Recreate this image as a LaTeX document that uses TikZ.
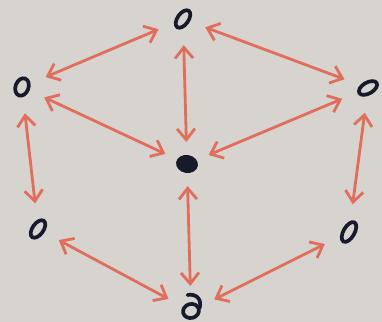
\documentclass[tikz,border=0pt]{standalone}
\usepackage{tikz}
\usetikzlibrary{arrows.meta, shapes.geometric, calc}
\usepackage{xcolor}
\definecolor{paper}{RGB}{215,212,208}
\definecolor{salmon}{RGB}{224,110,92}
\definecolor{ink}{RGB}{22,26,42}

\begin{document}
\begin{tikzpicture}[
  ring/.style={ellipse, draw=ink, line width=2.1pt, minimum width=0.40cm, minimum height=0.22cm, inner sep=0pt, outer sep=0.36cm},
  dot/.style={ellipse, fill=ink, minimum width=0.44cm, minimum height=0.36cm, inner sep=0pt, outer sep=0.26cm},
  link/.style={{Straight Barb[length=2.2mm,width=3.6mm]}-{Straight Barb[length=2.2mm,width=3.6mm]}, salmon, line width=1.6pt, line cap=round}
]
  \fill[paper] (0,0) rectangle (7.64,6.44);
  \useasboundingbox (0,0) rectangle (7.64,6.44);
  % outer ring of nodes
  \node[ring, rotate=55] (top) at (3.66,6.06) {};
  \node[ring, rotate=70, minimum width=0.36cm, minimum height=0.26cm] (ul) at (0.44,4.70) {};
  \node[ring, rotate=30] (ur) at (7.36,4.68) {};
  \node[ring, rotate=55] (ll) at (0.76,1.86) {};
  \node[ring, rotate=60, minimum width=0.44cm] (lr) at (6.98,1.80) {};
  \node[ring, rotate=15, minimum width=0.32cm, minimum height=0.28cm] (bot) at (3.82,0.22) {};
  \draw[ink, line width=2.1pt, line cap=round] (bot) ++(0.17,0.05) .. controls +(0.06,0.2) and +(0.16,0.03) .. ++(-0.24,0.27);
  % middle
  \node[dot, rotate=-10] (ctr) at (3.74,3.16) {};
  % hexagon edges
  \draw[link] (top) -- (ul);
  \draw[link] (top) -- (ur);
  \draw[link] (ul) -- (ll);
  \draw[link] (ur) -- (lr);
  \draw[link] (ll) -- (bot);
  \draw[link] (lr) -- (bot);
  % spokes
  \draw[link] (top) -- (ctr);
  \draw[link] (ul) -- (ctr);
  \draw[link] (ur) -- (ctr);
  \draw[link] (ctr) -- (bot);
\end{tikzpicture}
\end{document}
